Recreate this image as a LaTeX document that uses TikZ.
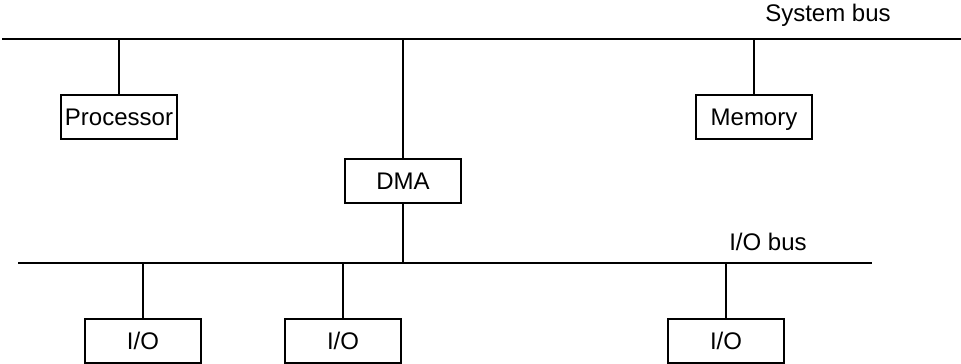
\documentclass[tikz,border=0pt]{standalone}
\usepackage{fontspec}
\setmainfont{Liberation Sans}
\usepackage{tikz}
\usetikzlibrary{calc}

\begin{document}
\begin{tikzpicture}[x=0.75pt, y=-0.75pt]
  \pgfmathsetmacro{\sysy}{39}  % system bus height
  \pgfmathsetmacro{\ioy}{263}  % I/O bus height

  \tikzset{
    unit box/.style={draw, line width=1.4pt, minimum width=87.5pt, minimum height=33pt,
      inner sep=0pt, text height=13pt, text depth=0pt, font=\fontsize{18}{21}\selectfont},
    bus line/.style={line width=1.5pt},
    link line/.style={line width=1.4pt},
    bus label/.style={inner sep=0pt, font=\fontsize{18}{21}\selectfont},
  }

  \useasboundingbox (0,0) rectangle (961,364);

  % System bus
  \coordinate (sysL) at (2,\sysy);
  \coordinate (sysR) at (961,\sysy);
  \draw[bus line] (sysL) -- (sysR);
  \node[bus label] (syslabel) at (828,15) {System bus};

  \node[unit box] (proc) at (119,117) {Processor};
  \node[unit box] (mem)  at (754,117) {Memory};
  \node[unit box] (dma)  at (403,181) {DMA};

  \draw[link line] (proc.north) -- (proc.north |- sysL);
  \draw[link line] (mem.north)  -- (mem.north |- sysL);
  \draw[link line] (dma.north)  -- (dma.north |- sysL);

  % I/O bus
  \coordinate (ioL) at (18,\ioy);
  \coordinate (ioR) at (872,\ioy);
  \draw[bus line] (ioL) -- (ioR);
  \node[bus label] (iolabel) at (768,242) {I/O bus};

  \draw[link line] (dma.south) -- (dma.south |- ioL);

  \node[unit box] (io1) at (143,341) {I/O};
  \node[unit box] (io2) at (343,341) {I/O};
  \node[unit box] (io3) at (726,341) {I/O};

  \draw[link line] (io1.north) -- (io1.north |- ioL);
  \draw[link line] (io2.north) -- (io2.north |- ioL);
  \draw[link line] (io3.north) -- (io3.north |- ioL);
\end{tikzpicture}
\end{document}
